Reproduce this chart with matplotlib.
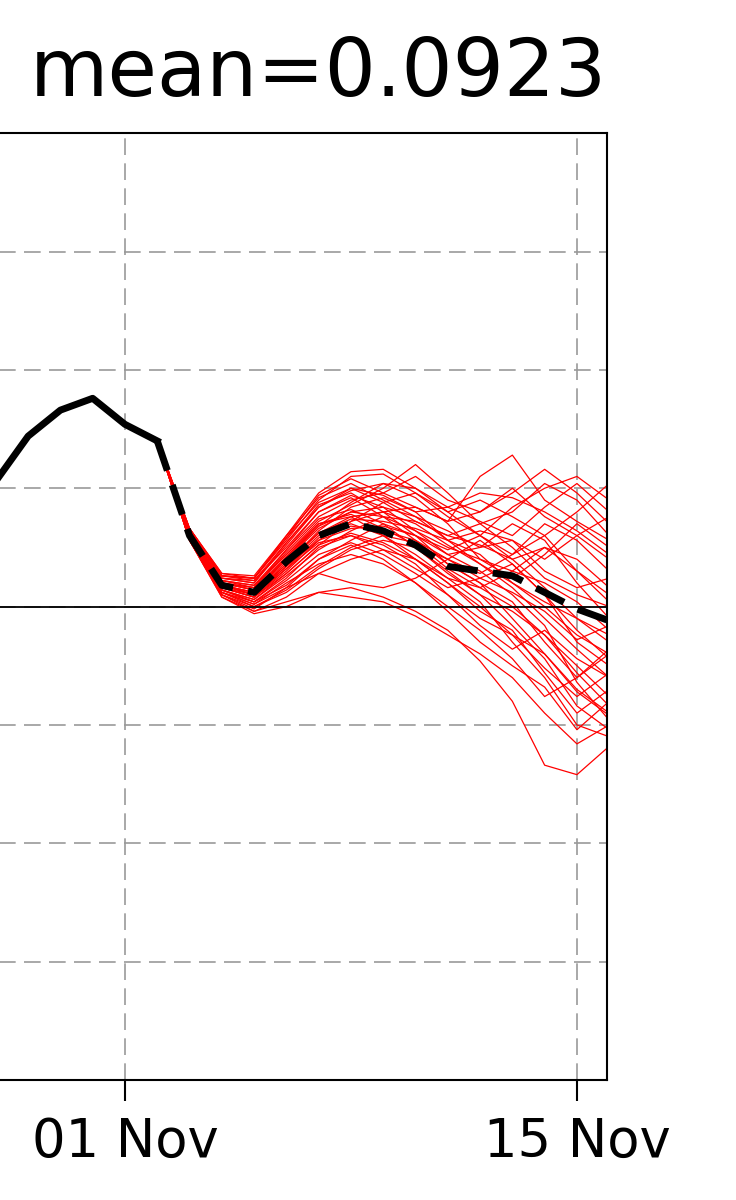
import numpy as np
import pandas as pd
import matplotlib
matplotlib.use("Agg")
import matplotlib.pyplot as plt
import matplotlib.dates as mdates

# observed index (solid black)
obs_dates = pd.date_range("2023-10-28", "2023-11-02", freq="D")
obs_vals = [0.53, 0.72, 0.83, 0.88, 0.77, 0.70]

# forecast dates, ensemble mean (dashed) and members (red)
fc_dates = pd.date_range("2023-11-02", "2023-11-16", freq="D")
ens_mean = [0.70, 0.30, 0.09, 0.06, 0.19, 0.30, 0.35, 0.32, 0.26, 0.17,
            0.15, 0.13, 0.06, -0.01, -0.06]

members = [
    [0.70, 0.31, 0.10, 0.08, 0.24, 0.38, 0.45, 0.48, 0.55, 0.45, 0.40, 0.50, 0.38, 0.30, 0.20],
    [0.70, 0.29, 0.07, 0.02, 0.12, 0.25, 0.30, 0.26, 0.18, 0.05, -0.05, -0.12, -0.20, -0.35, -0.45],
    [0.70, 0.32, 0.12, 0.10, 0.26, 0.42, 0.50, 0.44, 0.36, 0.30, 0.35, 0.40, 0.52, 0.45, 0.30],
    [0.70, 0.28, 0.05, -0.01, 0.08, 0.20, 0.28, 0.35, 0.30, 0.18, 0.10, 0.02, -0.15, -0.30, -0.20],
    [0.70, 0.30, 0.09, 0.06, 0.20, 0.33, 0.40, 0.38, 0.32, 0.25, 0.20, 0.15, 0.10, 0.02, -0.10],
    [0.70, 0.31, 0.11, 0.09, 0.22, 0.36, 0.43, 0.50, 0.60, 0.48, 0.35, 0.25, 0.12, 0.05, 0.00],
    [0.70, 0.29, 0.06, 0.01, 0.10, 0.18, 0.22, 0.18, 0.10, -0.02, -0.15, -0.25, -0.34, -0.52, -0.40],
    [0.70, 0.30, 0.08, 0.04, 0.15, 0.28, 0.36, 0.40, 0.42, 0.36, 0.55, 0.64, 0.45, 0.36, 0.28],
    [0.70, 0.33, 0.13, 0.12, 0.28, 0.45, 0.55, 0.56, 0.48, 0.38, 0.30, 0.22, 0.30, 0.40, 0.52],
    [0.70, 0.28, 0.04, -0.02, 0.02, 0.06, 0.08, 0.04, -0.02, -0.10, -0.23, -0.40, -0.67, -0.71, -0.59],
    [0.70, 0.31, 0.10, 0.07, 0.21, 0.35, 0.38, 0.30, 0.20, 0.12, 0.08, 0.15, 0.25, 0.20, 0.08],
    [0.70, 0.30, 0.09, 0.05, 0.18, 0.32, 0.42, 0.46, 0.40, 0.28, 0.18, 0.08, -0.05, -0.18, -0.30],
    [0.70, 0.32, 0.12, 0.11, 0.25, 0.40, 0.47, 0.42, 0.32, 0.22, 0.25, 0.35, 0.28, 0.10, -0.05],
    [0.70, 0.29, 0.06, 0.00, 0.06, 0.16, 0.24, 0.28, 0.25, 0.14, 0.05, -0.08, -0.22, -0.42, -0.52],
    [0.70, 0.31, 0.10, 0.07, 0.20, 0.34, 0.44, 0.52, 0.50, 0.40, 0.45, 0.38, 0.30, 0.15, 0.05],
    [0.70, 0.30, 0.08, 0.05, 0.17, 0.30, 0.34, 0.32, 0.28, 0.20, 0.12, 0.18, 0.05, -0.10, -0.22],
    [0.70, 0.33, 0.14, 0.13, 0.30, 0.46, 0.52, 0.45, 0.38, 0.28, 0.22, 0.10, 0.00, -0.12, -0.20],
    [0.70, 0.28, 0.05, -0.02, 0.04, 0.14, 0.20, 0.24, 0.20, 0.10, -0.02, -0.10, -0.28, -0.45, -0.35],
    [0.70, 0.30, 0.09, 0.06, 0.19, 0.31, 0.37, 0.36, 0.33, 0.28, 0.32, 0.28, 0.20, 0.30, 0.38],
    [0.70, 0.31, 0.11, 0.08, 0.23, 0.37, 0.41, 0.35, 0.25, 0.15, 0.05, -0.02, -0.12, -0.25, -0.38],
    [0.70, 0.29, 0.07, 0.03, 0.13, 0.24, 0.32, 0.38, 0.36, 0.30, 0.26, 0.20, 0.08, -0.05, -0.15],
    [0.70, 0.32, 0.12, 0.10, 0.27, 0.43, 0.48, 0.40, 0.30, 0.24, 0.30, 0.42, 0.50, 0.55, 0.45],
    [0.70, 0.30, 0.08, 0.04, 0.16, 0.29, 0.35, 0.30, 0.22, 0.12, 0.02, -0.15, -0.30, -0.50, -0.55],
    [0.70, 0.31, 0.10, 0.07, 0.21, 0.34, 0.40, 0.42, 0.38, 0.32, 0.25, 0.28, 0.15, 0.08, 0.12],
    [0.70, 0.29, 0.06, 0.02, 0.11, 0.22, 0.27, 0.22, 0.14, 0.05, -0.08, -0.18, -0.10, -0.22, -0.30],
    [0.70, 0.32, 0.13, 0.11, 0.27, 0.42, 0.49, 0.52, 0.46, 0.35, 0.20, 0.12, 0.22, 0.35, 0.25],
    [0.70, 0.30, 0.09, 0.05, 0.17, 0.28, 0.33, 0.34, 0.30, 0.22, 0.15, 0.05, -0.08, -0.32, -0.48],
    [0.70, 0.31, 0.10, 0.08, 0.22, 0.35, 0.39, 0.33, 0.26, 0.20, 0.14, 0.22, 0.35, 0.28, 0.15],
    [0.70, 0.28, 0.05, 0.00, 0.07, 0.17, 0.25, 0.30, 0.27, 0.16, 0.08, 0.00, -0.12, -0.28, -0.42],
    [0.70, 0.30, 0.09, 0.06, 0.18, 0.31, 0.38, 0.40, 0.35, 0.26, 0.18, 0.10, 0.02, -0.05, -0.12],
    [0.70, 0.33, 0.13, 0.12, 0.29, 0.44, 0.50, 0.47, 0.40, 0.42, 0.48, 0.46, 0.40, 0.32, 0.22],
    [0.70, 0.29, 0.07, 0.03, 0.14, 0.26, 0.31, 0.27, 0.20, 0.10, 0.00, -0.12, -0.26, -0.38, -0.28],
    [0.70, 0.28, 0.04, -0.03, 0.00, 0.06, 0.04, 0.02, -0.04, -0.12, -0.20, -0.30, -0.45, -0.58, -0.50],
    [0.70, 0.32, 0.13, 0.12, 0.30, 0.48, 0.57, 0.58, 0.50, 0.42, 0.36, 0.30, 0.42, 0.52, 0.40],
    [0.70, 0.29, 0.06, 0.01, 0.08, 0.14, 0.10, 0.08, 0.12, 0.20, 0.28, 0.18, 0.05, -0.15, -0.25],
    [0.70, 0.31, 0.11, 0.09, 0.24, 0.40, 0.46, 0.38, 0.28, 0.18, 0.10, -0.05, -0.20, -0.36, -0.46],
    [0.70, 0.30, 0.08, 0.04, 0.14, 0.26, 0.36, 0.44, 0.48, 0.40, 0.30, 0.20, 0.25, 0.15, 0.02],
    [0.70, 0.29, 0.07, 0.02, 0.09, 0.20, 0.26, 0.20, 0.10, 0.00, -0.10, -0.22, -0.38, -0.30, -0.18],
    [0.70, 0.33, 0.14, 0.12, 0.29, 0.47, 0.54, 0.48, 0.42, 0.36, 0.40, 0.48, 0.58, 0.48, 0.35],
    [0.70, 0.30, 0.09, 0.05, 0.16, 0.27, 0.30, 0.24, 0.16, 0.08, 0.12, 0.06, -0.02, -0.14, -0.08],
]

title_text = "mean=0.0923"
x_start, x_end = "2023-10-27 12:00", "2023-11-15 22:20"

fig = plt.figure(figsize=(7.36, 12), dpi=100)
# axes runs off the left edge of the canvas, like the reference crop
ax = fig.add_axes([-0.0276, 0.1, 0.8523, 0.789])

for m in members:
    ax.plot(fc_dates, m, color="red", lw=0.9, zorder=2)
ax.plot(fc_dates, ens_mean, color="black", lw=5, dashes=(4.5, 2.2), zorder=4)
ax.plot(obs_dates, obs_vals, color="black", lw=5, zorder=4)
ax.axhline(0, color="black", lw=1.3, zorder=3)

ax.set_xlim(pd.Timestamp(x_start), pd.Timestamp(x_end))
ax.set_ylim(-2, 2)
ax.set_yticks(np.arange(-1.5, 1.51, 0.5))
ax.xaxis.set_major_locator(mdates.DayLocator(bymonthday=[1, 15]))
ax.xaxis.set_major_formatter(mdates.DateFormatter("%d %b"))
ax.grid(True, color="0.6", lw=1.2, dashes=(10, 5))

ax.tick_params(axis="x", labelsize=38, length=15, width=1.5, pad=11)
ax.tick_params(axis="y", left=False, labelleft=False)
for s in ax.spines.values():
    s.set_linewidth(1.5)

ax.set_title(title_text, loc="right", fontsize=58, pad=27)

fig.savefig("out.png", dpi=100)
